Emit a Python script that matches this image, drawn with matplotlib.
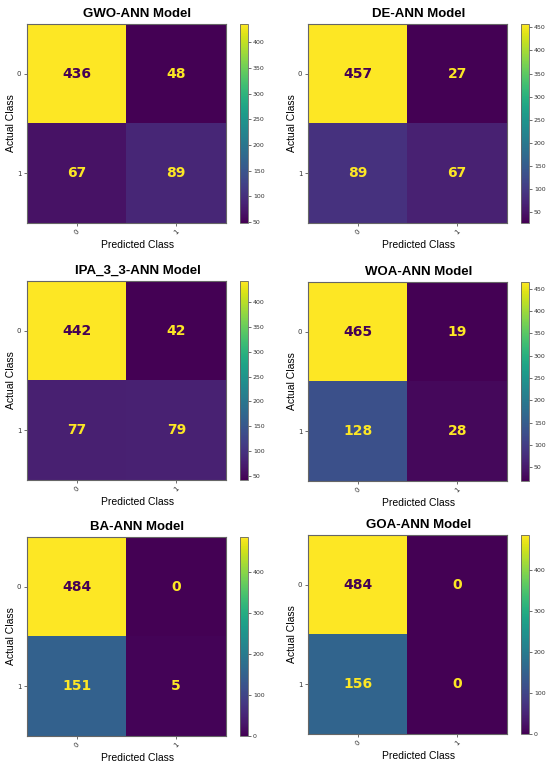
import matplotlib
matplotlib.use("Agg")
import matplotlib.pyplot as plt
import numpy as np

# confusion matrices
titles = ["GWO-ANN Model", "DE-ANN Model", "IPA_3_3-ANN Model",
          "WOA-ANN Model", "BA-ANN Model", "GOA-ANN Model"]
gwo = [[436, 48], [67, 89]]
de = [[457, 27], [89, 67]]
ipa = [[442, 42], [77, 79]]
woa = [[465, 19], [128, 28]]
ba = [[484, 0], [151, 5]]
goa = [[484, 0], [156, 0]]
matrices = [gwo, de, ipa, woa, ba, goa]
class_labels = ["0", "1"]

W, H = 550, 763
fig = plt.figure(figsize=(W / 100, H / 100), dpi=100)

# pixel layout of the panels (left, top)
lefts = [27, 308]
tops = [[24, 24], [281, 282], [537, 535]]
size = 199
cb_gap, cb_w = 14, 8
# title and x label sit centred over matrix + colorbar
xc = (size + cb_gap + cb_w) / 2 / size

cmap = plt.get_cmap("viridis")
for i, (title, m) in enumerate(zip(titles, matrices)):
    r, c = divmod(i, 2)
    m = np.array(m)
    x0 = lefts[c]
    y0 = tops[r][c]
    ax = fig.add_axes([x0 / W, 1 - (y0 + size) / H, size / W, size / H])
    cax = fig.add_axes([(x0 + size + cb_gap) / W, 1 - (y0 + size) / H, cb_w / W, size / H])

    im = ax.imshow(m, cmap=cmap, aspect="auto")
    thresh = (m.max() + m.min()) / 2
    for a in range(2):
        for b in range(2):
            col = cmap(1.0) if m[a, b] < thresh else cmap(0.0)
            ax.text(b, a, str(m[a, b]), ha="center", va="center",
                    fontsize=10, fontweight="bold", color=col)

    ax.set_xticks([0, 1])
    ax.set_yticks([0, 1])
    ax.set_xticklabels(class_labels, rotation=45, fontsize=5)
    ax.set_yticklabels(class_labels, fontsize=5)
    ax.tick_params(length=2, width=0.5, pad=2, colors="#333333")
    for s in ax.spines.values():
        s.set_color("#666666")
        s.set_linewidth(0.8)

    ax.set_title(title, fontsize=9.5, fontweight="bold", family="Liberation Sans", pad=5, x=xc)
    ax.set_xlabel("Predicted Class", fontsize=7.5, family="Liberation Sans", labelpad=3, x=xc)
    ax.set_ylabel("Actual Class", fontsize=7.5, family="Liberation Sans", labelpad=1)

    cb = fig.colorbar(im, cax=cax)
    cb.ax.tick_params(labelsize=4.5, length=2, width=0.5, pad=1.5, colors="#333333")
    cb.outline.set_linewidth(0.6)
    cb.outline.set_edgecolor("#666666")

fig.savefig("out.png", dpi=100)
